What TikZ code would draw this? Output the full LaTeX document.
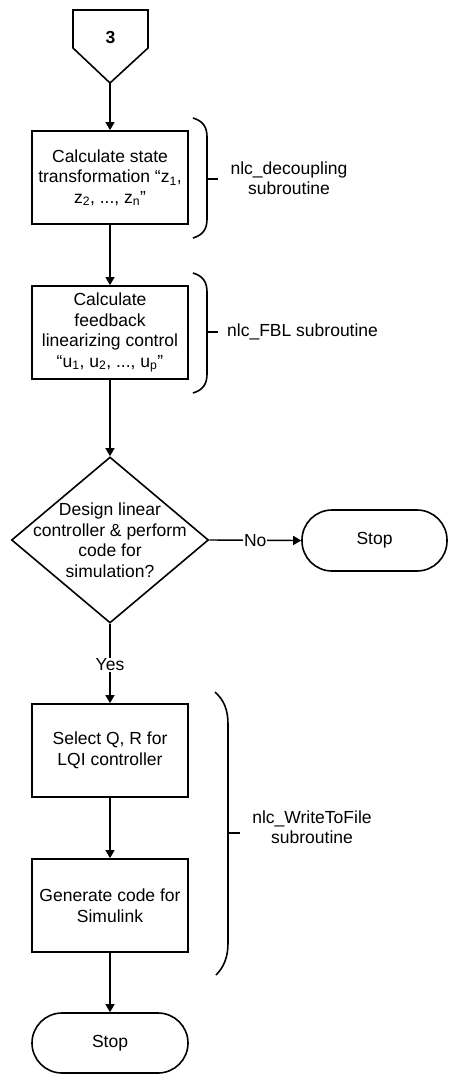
\documentclass[tikz,border=0pt]{standalone}
\usepackage{fontspec}
\setmainfont{Liberation Sans}
\usetikzlibrary{shapes.geometric,arrows.meta}
\begin{document}
\begin{tikzpicture}[x=1pt,y=-1pt,
  every node/.style={font=\fontsize{17.5}{20.5}\selectfont},
  proc/.style={draw,line width=1.8pt,minimum width=156pt,minimum height=93pt,align=center,inner sep=1pt},
  term/.style={draw,line width=1.6pt,rounded corners=30pt,minimum height=61pt,inner sep=0pt},
  conn/.style={line width=1.4pt,-{Triangle[length=8pt,width=9pt]}},
  bracestyle/.style={line width=1.6pt},
  sidelabel/.style={align=center,inner sep=0pt},
  edgelabel/.style={fill=white,inner sep=1pt}
]
\useasboundingbox (0,0) rectangle (448,1075);

% off-page connector
\draw[line width=1.6pt] (73,10) -- (148,10) -- (148,48) -- (110,83) -- (73,48) -- cycle;
\node[font=\bfseries\fontsize{17.5}{20}\selectfont] (c3) at (110.5,37) {3};
\coordinate (c3tip) at (110,83);

% process boxes
\node[proc] (b1) at (110,177.5) {Calculate state\\transformation “z\textsubscript{1},\\z\textsubscript{2}, ..., z\textsubscript{n}”};
\node[proc] (b2) at (110,332.5) {Calculate\\feedback\\linearizing control\\“u\textsubscript{1}, u\textsubscript{2}, ..., u\textsubscript{p}”};
\node[draw,diamond,line width=1.6pt,minimum width=197pt,minimum height=166pt,inner sep=0pt] (dec) at (110,540) {};
\node[align=center,inner sep=0pt] (dectext) at (dec.center) {Design linear\\controller \& perform\\code for\\simulation?};
\node[term,minimum width=145pt] (stop1) at (374.5,540.5) {Stop};
\node[proc] (b3) at (110,750.5) {Select Q, R for\\LQI controller};
\node[proc] (b4) at (110,905.5) {Generate code for\\Simulink};
\node[term,minimum width=156pt,minimum height=60pt] (stop2) at (110,1043) {Stop};

% connectors
\draw[conn] (c3tip) -- (b1.north);
\draw[conn] (b1.south) -- (b2.north);
\draw[conn] (b2.south) -- (dec.north);
\draw[conn] (dec.east) -- node[edgelabel,pos=0.5] (no) {No} (stop1.west);
\draw[conn] (dec.south) -- node[edgelabel,pos=0.52] (yes) {Yes} (b3.north);
\draw[conn] (b3.south) -- (b4.north);
\draw[conn] (b4.south) -- (stop2.north);

% braces
\draw[bracestyle] (193,118) .. controls (203,121) and (207,127) .. (207,137) -- (207,219) .. controls (207,229) and (203,235) .. (193,238);
\draw[bracestyle] (207,179) -- (218,179);
\node[sidelabel] (l1) at (289,178) {nlc\_decoupling\\subroutine};

\draw[bracestyle] (193,273) .. controls (203,276) and (207,282) .. (207,292) -- (207,374) .. controls (207,384) and (203,390) .. (193,393);
\draw[bracestyle] (207,332) -- (218,332);
\node[sidelabel,anchor=west] (l2) at (227,332) {nlc\_FBL subroutine};

\draw[bracestyle] (215,692) .. controls (224,700) and (228,710) .. (228,724) -- (228,943) .. controls (228,957) and (224,967) .. (216,975);
\draw[bracestyle] (228,833) -- (240,833);
\node[sidelabel] (l3) at (312,827) {nlc\_WriteToFile\\subroutine};
\end{tikzpicture}
\end{document}
